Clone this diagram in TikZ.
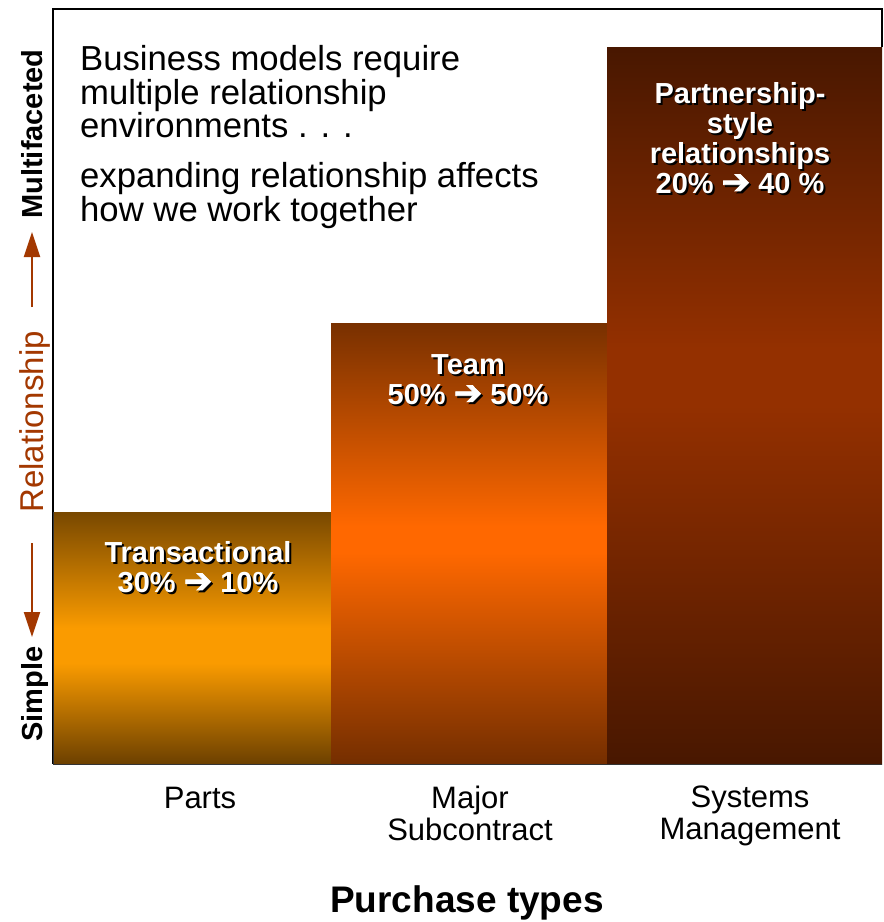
\documentclass[tikz,border=0pt]{standalone}
\usepackage{fontspec}
\setmainfont{Liberation Sans}
\newfontfamily\dingfont[FakeBold=2.5]{DejaVu Sans}
\usetikzlibrary{arrows.meta}

% colours
\definecolor{relbrown}{RGB}{163,56,0}
\definecolor{partsdark}{RGB}{108,64,0}
\definecolor{partstop}{RGB}{120,72,0}
\definecolor{partsbright}{RGB}{250,155,0}
\definecolor{teamdark}{RGB}{116,46,0}
\definecolor{teamtop}{RGB}{120,48,0}
\definecolor{teambright}{RGB}{255,104,0}
\definecolor{sysdark}{RGB}{72,23,0}
\definecolor{sysbright}{RGB}{148,48,0}

% vertical fills of the three columns; the filled box spans 25bp (bottom) to 75bp (top)
\pgfdeclareverticalshading{partsfill}{100bp}{color(0bp)=(partsdark); color(25bp)=(partsdark); color(45bp)=(partsbright); color(52bp)=(partsbright); color(75bp)=(partstop); color(100bp)=(partstop)}
\pgfdeclareverticalshading{teamfill}{100bp}{color(0bp)=(teamdark); color(25bp)=(teamdark); color(49bp)=(teambright); color(52bp)=(teambright); color(75bp)=(teamtop); color(100bp)=(teamtop)}
\pgfdeclareverticalshading{sysfill}{100bp}{color(0bp)=(sysdark); color(25bp)=(sysdark); color(50bp)=(sysbright); color(54bp)=(sysbright); color(75bp)=(sysdark); color(100bp)=(sysdark)}

\newcommand\heavyarrow{{\dingfont\fontsize{34}{30}\selectfont\symbol{"2794}}}

% white column label with a black drop shadow
\newcommand\shadowlabel[3]{%
  \node[barlabel,text=black,xshift=2pt,yshift=-2pt] (#1-shadow) at (#2) {#3};
  \node[barlabel] (#1) at (#2) {#3};}

\begin{document}
\begin{tikzpicture}[x=1pt,y=-1pt,
  barlabel/.style={anchor=north,align=center,inner sep=0pt,text=white,
    font=\bfseries\fontsize{29}{30}\selectfont},
  bodytext/.style={anchor=north west,align=left,inner sep=0pt,
    font=\fontsize{34.7}{33.5}\selectfont},
  catlabel/.style={inner sep=0pt,align=center,font=\fontsize{31}{32}\selectfont},
  axislabel/.style={anchor=base,rotate=90,inner sep=0pt,font=\bfseries\fontsize{29}{30}\selectfont},
  relarrow/.style={draw=relbrown,line width=2pt,-{Triangle[length=25pt,width=16pt]}}]

\useasboundingbox (0,0) rectangle (884,922);
\fill[white] (0,0) rectangle (884,922);

% columns
\path[shading=partsfill] (53,512) rectangle (331,764);
\path[shading=teamfill] (331,323) rectangle (607,764);
\path[shading=sysfill] (607,47) rectangle (882,764);

% frame
\draw[line width=2pt] (53,764) -- (53,9) -- (882,9) -- (882,47);
\draw[line width=0.8pt,black!80] (53,512) -- (53,764) -- (882,764);

% column labels
\shadowlabel{transactional}{198,541.2}{Transactional\\30\% \heavyarrow\ 10\%}
\shadowlabel{team}{468,354.2}{Team\\50\% \heavyarrow\ 50\%}
\shadowlabel{partnership}{740,82.2}{Partnership-\\style\\relationships\\20\% \heavyarrow\ 40 \%}

% statement text
\node[bodytext] (statement1) at (80,45.3) {Business models require\\multiple relationship\\environments . . .};
\node[bodytext] (statement2) at (80,162.3) {expanding relationship affects\\how we work together};

% vertical axis
\node[axislabel] (multi) at (42,134) {Multifaceted};
\node[axislabel] (simple) at (42,694) {Simple};
\node[anchor=base,rotate=90,inner sep=0pt,text=relbrown,font=\fontsize{33}{34}\selectfont] (relation) at (43,422) {Relationship};
\coordinate (upfrom) at (32,307);
\coordinate (upto) at (32,232);
\coordinate (downfrom) at (32,543);
\coordinate (downto) at (32,637);
\draw[relarrow] (upfrom) -- (upto);
\draw[relarrow] (downfrom) -- (downto);

% horizontal axis
\node[catlabel,anchor=base] (parts) at (200,808) {Parts};
\node[catlabel,anchor=north] (major) at (470,785.8) {Major\\Subcontract};
\node[catlabel,anchor=north] (systems) at (750,785.8) {Systems\\Management};
\node[anchor=base,inner sep=0pt,font=\bfseries\fontsize{37}{38}\selectfont] (purchase) at (467,912) {Purchase types};

\end{tikzpicture}
\end{document}
